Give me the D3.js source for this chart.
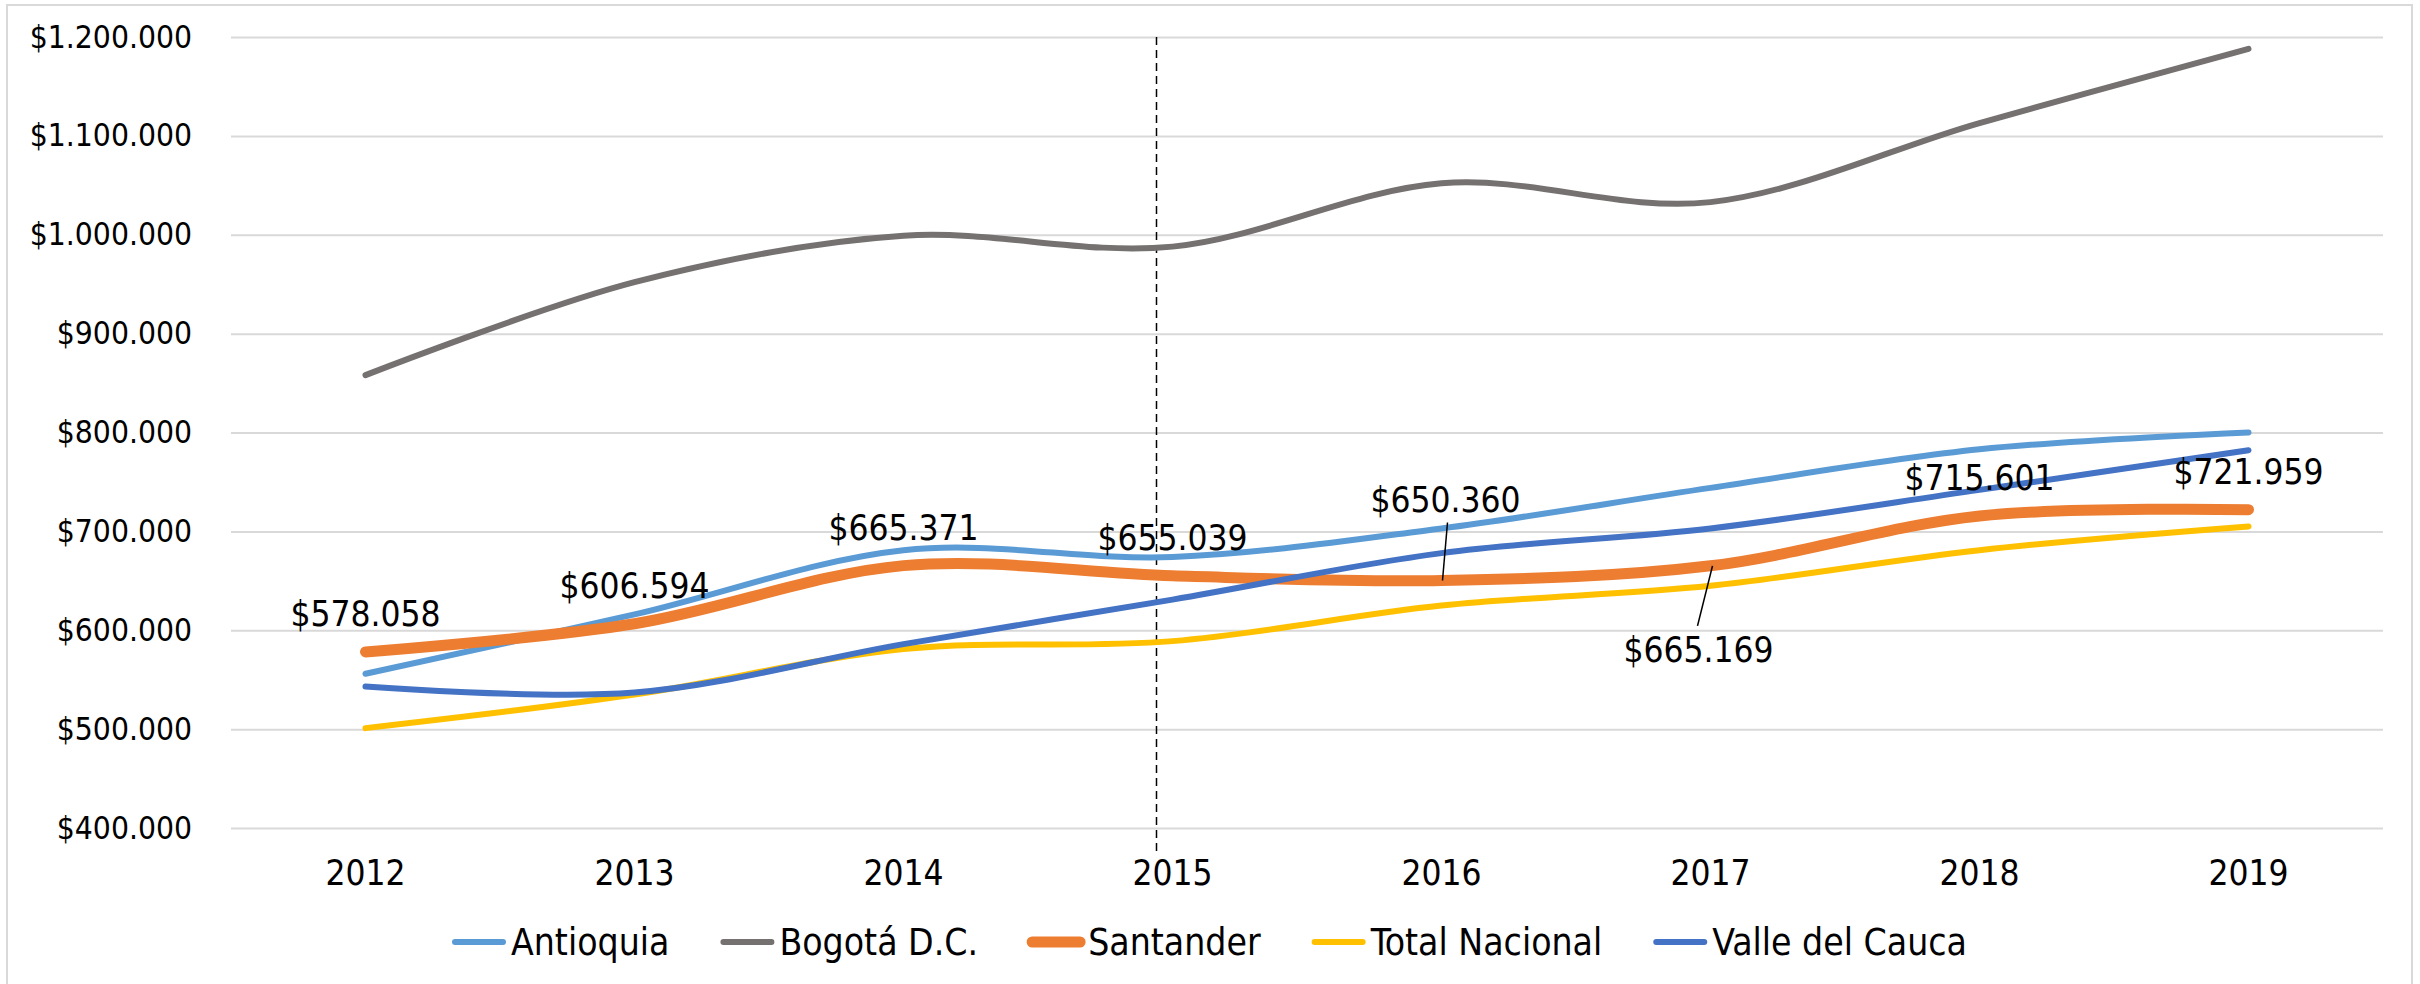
<!DOCTYPE html>
<html>
<head>
<meta charset="utf-8">
<script src="https://cdn.jsdelivr.net/npm/d3@7"></script>
<style>
  body { margin: 0; background: #fff; }
  text { font-family: "DejaVu Sans Condensed", "DejaVu Sans", sans-serif; fill: #000; }
</style>
</head>
<body>
<div id="chart"></div>
<script>
// data
var years = ["2012", "2013", "2014", "2015", "2016", "2017", "2018", "2019"];
var antioquia = [556000, 616000, 681000, 674000, 703000, 744000, 783000, 800000];
var bogota = [858000, 952000, 999000, 988000, 1052000, 1033000, 1113000, 1188000];
var santander = [578058, 606594, 665371, 655039, 650360, 665169, 715601, 721959];
var totalNacional = [501000, 535000, 581000, 589000, 625000, 645000, 681000, 705000];
var valle = [543000, 537000, 586000, 631000, 678000, 703000, 742000, 782000];
var yTicks = [400000, 500000, 600000, 700000, 800000, 900000, 1000000, 1100000, 1200000];
var markYear = "2015";

var series = [
  { name: "Antioquia", values: antioquia, color: "#5B9BD5", width: 6 },
  { name: "Bogotá D.C.", values: bogota, color: "#767171", width: 6 },
  { name: "Santander", values: santander, color: "#ED7D31", width: 11, labels: true },
  { name: "Total Nacional", values: totalNacional, color: "#FFC000", width: 6 },
  { name: "Valle del Cauca", values: valle, color: "#4472C4", width: 6 }
];

var svgWidth = 2420;
var svgHeight = 984;
var margin = { top: 37, right: 37, bottom: 156, left: 231 };
var width = svgWidth - margin.left - margin.right;
var height = svgHeight - margin.top - margin.bottom;

var locale = d3.formatLocale({ decimal: ",", thousands: ".", grouping: [3], currency: ["$", ""] });
var money = locale.format("$,");

var svg = d3.select("#chart").append("svg")
  .attr("width", svgWidth)
  .attr("height", svgHeight);

// outer chart border
svg.append("rect")
  .attr("x", 7).attr("y", 5)
  .attr("width", 2405).attr("height", 990)
  .attr("fill", "none")
  .attr("stroke", "#d9d9d9")
  .attr("stroke-width", 2);

var chartGroup = svg.append("g")
  .attr("transform", `translate(${margin.left}, ${margin.top})`);

var x = d3.scaleBand().domain(years).range([0, width]);
var y = d3.scaleLinear().domain([400000, 1200000]).range([height, 0]);
var cx = d => x(d) + x.bandwidth() / 2;

// gridlines + y labels
var yAxis = chartGroup.append("g")
  .call(d3.axisLeft(y).tickValues(yTicks).tickSize(-width).tickFormat(money).tickPadding(39));
yAxis.select(".domain").remove();
yAxis.selectAll(".tick line").attr("stroke", "#d9d9d9").attr("stroke-width", 2);
yAxis.selectAll(".tick text").attr("font-size", "31.5px")
  .style("font-family", "\"DejaVu Sans Condensed\", sans-serif");

// x labels
var xAxis = chartGroup.append("g")
  .attr("transform", `translate(0, ${height})`)
  .call(d3.axisBottom(x).tickSize(0).tickPadding(32));
xAxis.select(".domain").remove();
xAxis.selectAll(".tick text").attr("font-size", "35px")
  .style("font-family", "\"DejaVu Sans Condensed\", sans-serif");

// dashed marker line near 2015
chartGroup.append("line")
  .attr("x1", cx(markYear) - 16).attr("x2", cx(markYear) - 16)
  .attr("y1", y(1200000)).attr("y2", height + 24)
  .attr("stroke", "#000")
  .attr("stroke-width", 1.5)
  .attr("stroke-dasharray", "8,5");

var line = d3.line()
  .x((d, i) => cx(years[i]))
  .y(d => y(d))
  .curve(d3.curveCardinal.tension(0));

chartGroup.selectAll(".series")
  .data(series)
  .enter()
  .append("path")
  .attr("class", "series")
  .attr("d", d => line(d.values))
  .attr("fill", "none")
  .attr("stroke", d => d.color)
  .attr("stroke-width", d => d.width)
  .attr("stroke-linecap", "round")
  .attr("stroke-linejoin", "round");

// Santander data labels; 2016 and 2017 are pulled away with leader lines
var labelShift = { "2016": -80, "2017": 84 };
var labelled = series.filter(s => s.labels)[0];
labelled.values.forEach(function(v, i) {
  var yr = years[i];
  var px = cx(yr), py = y(v);
  var dy = labelShift[yr] !== undefined ? labelShift[yr] : -38;
  var dx = yr === "2016" ? 4 : (yr === "2017" ? -12 : 0);
  if (labelShift[yr] !== undefined) {
    var end = dy < 0 ? py + dy + 22 : py + dy - 24;
    chartGroup.append("line")
      .attr("x1", px + (yr === "2017" ? 2 : 1)).attr("y1", py)
      .attr("x2", px + dx + (yr === "2017" ? -1 : 2)).attr("y2", end)
      .attr("stroke", "#000").attr("stroke-width", 1.5);
  }
  chartGroup.append("text")
    .attr("x", px + dx)
    .attr("y", py + dy)
    .attr("text-anchor", "middle")
    .attr("dominant-baseline", "central")
    .attr("font-size", "35px")
    .text(money(v));
});

// legend
var legend = svg.append("g");
var lx = 0;
series.forEach(function(s) {
  var item = legend.append("g").attr("transform", `translate(${lx}, 0)`);
  item.append("line")
    .attr("x1", 3).attr("x2", 51)
    .attr("stroke", s.color)
    .attr("stroke-width", s.width)
    .attr("stroke-linecap", "round");
  var t = item.append("text")
    .attr("x", 59)
    .attr("dominant-baseline", "central")
    .attr("font-size", "37px")
    .text(s.name);
  lx += 59 + t.node().getComputedTextLength() + 51;
});
lx -= 51;
legend.attr("transform", `translate(${(7 + 2412) / 2 - lx / 2}, 942)`);
</script>
</body>
</html>
